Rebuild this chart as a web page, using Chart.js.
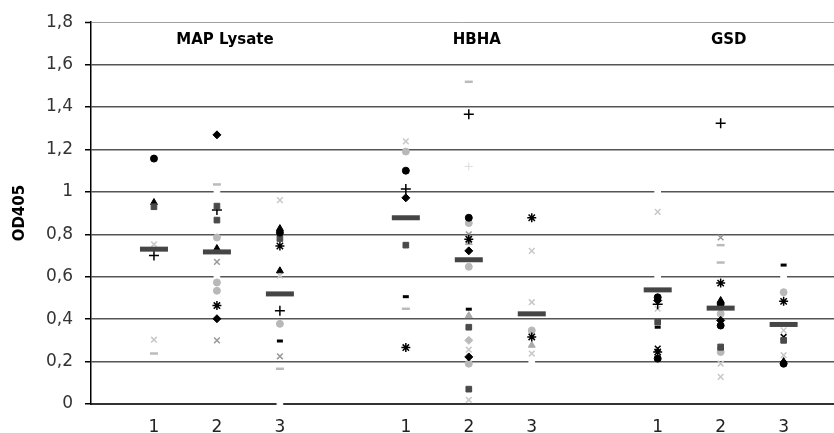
<!DOCTYPE html>
<html>
<head>
<meta charset="utf-8">
<script src="https://cdn.jsdelivr.net/npm/chart.js@4"></script>
<style>
  html, body { margin: 0; padding: 0; background: #fff; }
  #wrap { width: 834px; height: 433px; }
</style>
</head>
<body>
<div id="wrap"><canvas id="chart" width="834" height="433"></canvas></div>
<script>
// --- Data ---
// x slots: blank slots separate the three antigen groups
const xLabels = ['', '1', '2', '3', '', '1', '2', '3', '', '1', '2', '3'];
const groupNames = ['MAP Lysate', 'HBHA', 'GSD'];
const yTicks = [0, 0.2, 0.4, 0.6, 0.8, 1, 1.2, 1.4, 1.6, 1.8];

// one entry per column (9 columns), each a list of OD405 values
const meanValues = [[0.73], [0.717], [0.519], [0.878], [0.68], [0.425], [0.538], [0.452], [0.375]];
const blackCircle = [[1.157], [], [0.808], [1.10], [0.878], [], [0.503, 0.214], [0.472, 0.37], [0.19]];
const blackDiamond = [[], [1.269, 0.402], [], [0.972], [0.722, 0.222], [], [0.488], [0.394], []];
const greySquare = [[0.93], [0.933, 0.867], [0.78], [0.749], [0.362, 0.07], [], [0.386], [0.269], [0.30]];
const blackTriangle = [[0.95], [0.733], [0.827, 0.628], [], [], [], [], [0.488], [0.20]];
const blackPlus = [[0.70], [0.915], [0.44], [1.014], [1.366], [], [0.47], [1.324], []];
const blackStar = [[], [0.464], [0.745], [0.266], [0.777], [0.878, 0.316], [0.245], [0.570], [0.484]];
const blackX = [[], [], [], [], [], [], [0.261], [], [0.316]];
const greyX = [[], [0.67, 0.30], [0.225], [], [0.80], [], [], [0.785], []];
const lightX = [[0.753, 0.303], [], [0.961, 0.605], [1.238], [0.256, 0.019], [0.722, 0.48, 0.238], [0.906, 0.449], [0.19, 0.128], [0.347, 0.23]];
const lightDash = [[0.238], [1.035], [0.166], [0.449], [1.519], [], [], [0.749, 0.667], []];
const blackDash = [[], [], [0.297], [0.506], [0.447], [], [0.362], [0.26], [0.655]];
const lightCircle = [[], [0.785, 0.573, 0.534], [0.378], [1.19], [0.853, 0.647, 0.19], [0.347], [], [0.425, 0.245], [0.527]];
const greyTriangle = [[], [], [], [], [0.761, 0.417], [0.277], [], [], []];
const lightDiamond = [[], [], [], [], [0.30], [], [], [], []];
const faintPlus = [[], [], [], [], [1.12], [], [], [], []];
const whiteMarks = [[], [1.0, 0.6], [0.0], [], [], [0.2], [1.0, 0.6], [], [0.6]];

// --- Helpers ---
const colIdx = xLabels.map((l, i) => (l ? i : null)).filter(i => i !== null);
const toPoints = cols => cols.flatMap((vals, c) => vals.map(v => ({ x: colIdx[c], y: v })));
const FONT = "'DejaVu Sans', Verdana, sans-serif";

const series = (data, style, color, radius, width) => ({
    data: toPoints(data),
    pointStyle: style,
    pointRadius: radius,
    pointBackgroundColor: color,
    pointBorderColor: color,
    pointBorderWidth: width,
    showLine: false,
    clip: false
});

// first dataset is drawn on top
const datasets = [
    series(meanValues, 'line', '#454545', 14, 5),
    series(blackCircle, 'circle', '#000', 3.5, 1),
    series(blackDiamond, 'rectRot', '#000', 4, 1),
    series(greySquare, 'rect', '#4a4a4a', 4, 1),
    series(blackTriangle, 'triangle', '#000', 4, 1),
    series(blackPlus, 'cross', '#000', 5, 1.5),
    series(blackStar, 'star', '#000', 4.5, 1.5),
    series(blackX, 'crossRot', '#000', 4, 1.5),
    series(greyX, 'crossRot', '#999', 4, 1.5),
    series(lightX, 'crossRot', '#c8c8c8', 4, 1.5),
    series(lightDash, 'line', '#bbb', 4, 2.5),
    series(blackDash, 'line', '#000', 3, 3),
    series(lightCircle, 'circle', '#b8b8b8', 3.5, 1),
    series(greyTriangle, 'triangle', '#aaa', 4, 1),
    series(lightDiamond, 'rectRot', '#bbb', 4, 1),
    series(faintPlus, 'cross', '#ddd', 4, 1),
    series(whiteMarks, 'rect', '#fff', 4, 1)
];

// group titles above the middle column of each group
const groupTitles = {
    id: 'groupTitles',
    afterDatasetsDraw(chart) {
        const { ctx, scales: { x } } = chart;
        ctx.save();
        ctx.font = 'bold 15px ' + FONT;
        ctx.fillStyle = '#000';
        ctx.textAlign = 'center';
        ctx.textBaseline = 'middle';
        groupNames.forEach((name, g) => {
            ctx.fillText(name, x.getPixelForValue(colIdx[g * 3 + 1]) + 8, 40);
        });
        ctx.restore();
    }
};

new Chart(document.getElementById('chart'), {
    type: 'scatter',
    data: { datasets },
    plugins: [groupTitles],
    options: {
        responsive: false,
        animation: false,
        events: [],
        layout: { autoPadding: false, padding: { top: 20, right: 0, left: 0, bottom: 0 } },
        plugins: { legend: { display: false }, tooltip: { enabled: false } },
        scales: {
            x: {
                type: 'linear',
                min: 0,
                max: 11.8,
                afterBuildTicks: axis => { axis.ticks = colIdx.map(v => ({ value: v })); },
                afterFit: axis => {
                    axis.height = 29;
                    axis.paddingLeft = 0;
                    axis.paddingRight = 0;
                },
                ticks: {
                    callback: v => xLabels[v],
                    font: { family: FONT, size: 17 },
                    color: '#222',
                    padding: 13,
                    maxRotation: 0,
                    autoSkip: false
                },
                grid: { display: false, drawTicks: false },
                border: { color: '#333', width: 2 }
            },
            y: {
                min: 0,
                max: 1.8,
                afterBuildTicks: axis => { axis.ticks = yTicks.map(v => ({ value: v })); },
                afterFit: axis => { axis.width = 91; },
                ticks: {
                    callback: v => String(Number(v.toFixed(1))).replace('.', ','),
                    font: { family: FONT, size: 17 },
                    color: '#333',
                    padding: 12
                },
                grid: {
                    color: c => (c.tick && c.tick.value === 1.8 ? '#a0a0a0' : '#555'),
                    lineWidth: c => (c.tick && c.tick.value === 1.8 ? 1 : 1.5),
                    tickColor: '#000',
                    tickLength: 6,
                    tickWidth: 1.5
                },
                border: { color: '#000', width: 1.5 },
                title: {
                    display: true,
                    text: 'OD405',
                    font: { family: FONT, size: 15, weight: 'bold' },
                    color: '#000',
                    padding: { top: 11, bottom: 0 }
                }
            }
        }
    }
});
</script>
</body>
</html>
